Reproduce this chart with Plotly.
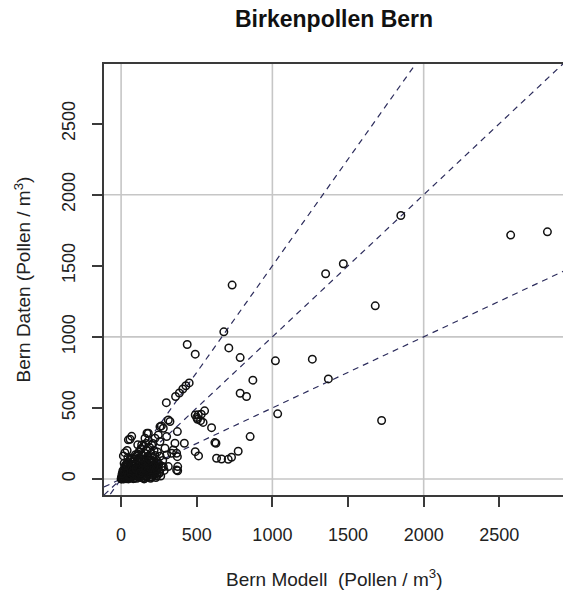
import numpy as np
import plotly.graph_objects as go

# Modelled vs. measured daily birch pollen concentrations in Bern (Pollen / m^3)
modell = [
    2818, 2575, 1849, 1469, 1352, 1680, 734, 1722, 679, 437, 490, 712, 787, 1020,
    1264, 1370, 871, 787, 829, 1035, 853, 774, 730, 708, 664, 631, 627, 598, 552,
    490, 512, 418, 372, 372, 374, 374, 299, 360, 385, 408, 428, 450, 312, 266,
    171, 59, 70, 15, 490, 510, 530, 505, 525, 542, 500, 620, 345, 334, 301, 279,
    257, 224, 158, 136, 202, 290, 180, 246, 323, 356, 367, 367, 312, 279, 301,
    202, 235, 257, 169, 48,
    0, 2, 5, 8, 10, 12, 15, 18, 20, 22, 25, 28, 30, 33, 35, 38, 40, 42, 45, 48,
    50, 52, 55, 58, 60, 62, 65, 68, 70, 72, 75, 78, 80, 82, 85, 88, 90, 92, 95,
    98, 100, 102, 105, 108, 110, 112, 115, 118, 120, 122, 125, 128, 130, 132,
    135, 138, 140, 142, 145, 148, 150, 152, 155, 158, 160, 162, 165, 168, 170,
    172, 175, 178, 180, 182, 185, 188, 190, 192, 195, 198, 200, 202, 205, 208,
    210, 212, 215, 218, 220, 225, 228, 230, 235, 238, 240, 245, 250, 255, 258,
    262, 270, 275, 285, 20, 30, 45, 60, 25, 40, 110, 130, 150, 95,
    3, 6, 9, 14, 17, 21, 26, 31, 36, 41, 46, 53, 57, 63, 67, 73, 77, 83, 87,
    93, 97, 103, 107, 113, 117, 123, 127, 133, 137, 143, 147, 153, 157, 163,
    167, 173, 177, 183, 187, 193, 197, 203, 207, 213, 217, 223, 233, 243, 253,
    12, 24, 36, 48, 64, 76, 88, 104, 116, 132, 144, 156, 176, 196, 216, 236,
    7, 19, 27, 44, 56, 69, 81, 99, 111, 126, 141, 161, 181,
]
daten = [
    1739, 1716, 1854, 1514, 1444, 1218, 1364, 411, 1035, 946, 878, 922, 854, 831,
    843, 704, 695, 603, 580, 458, 298, 195, 153, 138, 140, 146, 251, 361, 479,
    192, 162, 251, 333, 157, 87, 58, 537, 580, 605, 633, 656, 676, 415, 373,
    322, 279, 300, 162, 450, 452, 455, 420, 410, 398, 432, 256, 204, 181, 169,
    86, 368, 286, 286, 239, 239, 216, 322, 310, 404, 251, 181, 63, 87, 357, 298,
    87, 87, 263, 16, 275,
    0, 5, 0, 12, 3, 20, 8, 0, 30, 14, 5, 40, 18, 2, 55, 25, 10, 70, 35, 0,
    48, 20, 85, 60, 8, 30, 100, 45, 15, 75, 120, 55, 2, 90, 30, 140, 65, 110,
    20, 45, 160, 80, 5, 130, 60, 100, 35, 190, 75, 150, 12, 115, 50, 210,
    90, 170, 25, 130, 65, 230, 100, 0, 180, 45, 140, 85, 250, 110, 20,
    200, 60, 160, 95, 270, 35, 130, 220, 70, 5, 180, 115, 45, 150, 85,
    250, 25, 120, 200, 60, 165, 95, 10, 130, 40, 190, 75, 105, 50, 160,
    20, 90, 130, 60, 110, 95, 150, 130, 185, 200, 240, 210, 120, 170,
    10, 25, 40, 2, 60, 15, 35, 80, 8, 50, 100, 22, 70, 12, 45, 95, 28, 65,
    5, 110, 40, 75, 18, 120, 55, 90, 30, 140, 68, 10, 105, 42, 125, 80,
    22, 155, 60, 100, 38, 135, 72, 15, 115, 52, 90, 30, 70, 110, 40,
    58, 82, 108, 26, 138, 48, 6, 62, 18, 98, 32, 4, 54, 14, 88, 20,
    36, 62, 92, 118, 4, 148, 98, 72, 176, 42, 8, 66, 124,
]

# Reference lines: measured = factor x modelled
faktoren = [0.5, 1.0, 1.5]

achse_min, x_max, y_max = -113, 2921, 2920
tick_werte = [0, 500, 1000, 1500, 2000, 2500]
gitter_werte = [0, 1000, 2000]

schrift = "Liberation Sans, Arial, sans-serif"
rahmen = "#3a3a3a"
gitter = "#c6c6c6"

fig = go.Figure()

x_linie = np.array([achse_min, x_max])
for f in faktoren:
    fig.add_trace(go.Scatter(
        x=x_linie, y=f * x_linie, mode="lines",
        line=dict(color="#2c2c5c", width=1.2, dash="6px,5px"),
        hoverinfo="skip", showlegend=False,
    ))

fig.add_trace(go.Scatter(
    x=modell, y=daten, mode="markers",
    marker=dict(symbol="circle-open", size=7.5, color="#111111",
                line=dict(width=1.5)),
    showlegend=False,
))

shapes = []
for g in gitter_werte:
    shapes.append(dict(type="line", xref="x", yref="paper", x0=g, x1=g,
                       y0=0, y1=1, layer="below",
                       line=dict(color=gitter, width=1.6)))
    shapes.append(dict(type="line", xref="paper", yref="y", x0=0, x1=1,
                       y0=g, y1=g, layer="below",
                       line=dict(color=gitter, width=1.6)))

achse = dict(
    showgrid=False, zeroline=False, showline=True, linecolor=rahmen,
    linewidth=2, ticks="outside", ticklen=10, tickwidth=2, tickcolor=rahmen,
    tickmode="array", tickvals=tick_werte,
    ticktext=[str(t) for t in tick_werte],
    tickfont=dict(family=schrift, size=18, color="#222222"),
)

fig.update_layout(
    width=563, height=597,
    margin=dict(l=104, r=0, t=64, b=102),
    paper_bgcolor="white", plot_bgcolor="white",
    xaxis=dict(achse, range=[achse_min, x_max], mirror=True,
               ticklabelstandoff=12),
    yaxis=dict(achse, range=[achse_min, y_max], mirror=False,
               tickangle=-90, ticklabelstandoff=10),
    shapes=shapes,
    annotations=[
        dict(text="<b>Birkenpollen Bern</b>", xref="paper", yref="paper",
             x=0.5, y=1.1044, showarrow=False, xanchor="center",
             yanchor="middle",
             font=dict(family=schrift, size=23, color="#111111")),
        dict(text="Bern Modell  (Pollen / m<sup>3</sup>)", xref="paper",
             yref="paper", x=0.5, y=-0.1926, showarrow=False,
             xanchor="center", yanchor="middle",
             font=dict(family=schrift, size=19, color="#222222")),
        dict(text="Bern Daten (Pollen / m<sup>3</sup>)", xref="paper",
             yref="paper", x=-0.1786, y=0.5, showarrow=False, textangle=-90,
             xanchor="center", yanchor="middle",
             font=dict(family=schrift, size=19, color="#222222")),
    ],
)

fig.write_html("out.html")
